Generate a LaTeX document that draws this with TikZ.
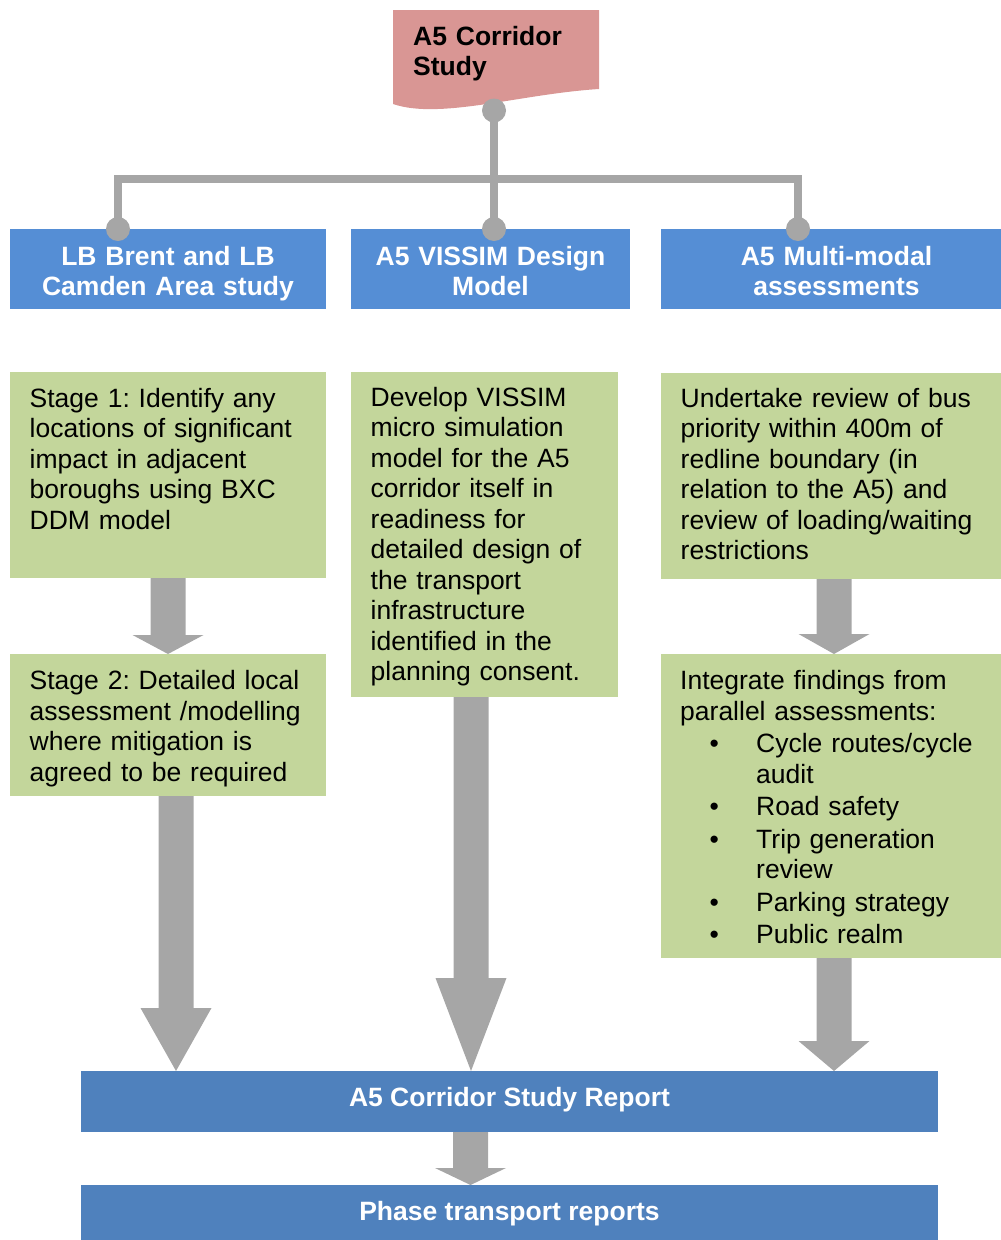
\documentclass[tikz,border=0pt]{standalone}
\usepackage{fontspec}
\setmainfont{Liberation Sans}
\usetikzlibrary{calc}
\frenchspacing
\definecolor{pinkbox}{HTML}{D99694}
\definecolor{bluehead}{HTML}{558ED5}
\definecolor{bluereport}{HTML}{4F81BD}
\definecolor{greenbox}{HTML}{C3D69B}
\definecolor{arrowgray}{HTML}{A6A6A6}
% block arrow: #1 start point, #2 end point (tip), #3 head length
\newcommand{\blockarr}[3]{%
  \fill[arrowgray] let \p1=(#1), \p2=(#2) in
   (\x1-17.5pt,\y1) -- (\x1+17.5pt,\y1) -- (\x1+17.5pt,\y2+#3) -- (\x1+35.5pt,\y2+#3)
   -- (\x1,\y2) -- (\x1-35.5pt,\y2+#3) -- (\x1-17.5pt,\y2+#3) -- cycle;}
\begin{document}
\frenchspacing
\begin{tikzpicture}[x=1pt,y=-1pt,
  basefont/.style={font=\fontsize{26.5}{30.5}\selectfont},
  shapebox/.style={inner sep=0pt,outer sep=0pt,anchor=north west,draw=none},
  headbox/.style={shapebox,fill=bluehead,minimum height=80pt},
  greenb/.style={shapebox,fill=greenbox},
  repbox/.style={shapebox,fill=bluereport,minimum width=857pt},
  headtext/.style={basefont,font=\fontsize{26.5}{30.5}\selectfont\bfseries,text=white,inner sep=0pt,anchor=north,align=center},
  bodytext/.style={basefont,inner sep=0pt,anchor=north west,text width=330pt,align=left,text=black},
  conn/.style={draw=arrowgray,line width=7.5pt},
  dot/.style={circle,fill=arrowgray,inner sep=0pt,minimum size=24pt}]
\useasboundingbox (0,0) rectangle (1001,1240);
\clip (0,0) rectangle (1001,1240);

% top document shape
\fill[pinkbox] (393,10) -- (599,10) -- (599,89) .. controls (520,94) and (440,120) .. (393,104) -- cycle;
\node[basefont,font=\fontsize{26.5}{30.5}\selectfont\bfseries,inner sep=0pt,anchor=north west,text width=200pt,align=left] (top) at (413,23.65) {\strut A5 Corridor\\Study};

% header boxes
\node[headbox,minimum width=316pt] (h1) at (10,229) {};
\node[headbox,minimum width=279pt] (h2) at (351,229) {};
\node[headbox,minimum width=350pt] (h3) at (661,229) {};
\node[headtext,text width=316pt] (h1t) at (168,243.65) {\strut LB Brent and LB\\Camden Area study};
\node[headtext,text width=279pt] (h2t) at (490.5,243.65) {\strut A5 VISSIM Design\\Model};
\node[headtext,text width=350pt] (h3t) at (836.5,243.65) {\strut A5 Multi-modal\\assessments};

% connectors
\coordinate (c0) at (494,110.5);
\coordinate (c1) at (118,229);
\coordinate (c2) at (494,229);
\coordinate (c3) at (798,229);
\coordinate (hb) at (494,179);
\draw[conn] (c0) -- (c2);
\draw[conn] (c1) |- (hb) -| (c3);
\node[dot] (d0) at (c0) {};
\node[dot] (d1) at (c1) {};
\node[dot] (d2) at (c2) {};
\node[dot] (d3) at (c3) {};

% green boxes
\node[greenb,minimum width=316pt,minimum height=206pt] (g1) at (10,372) {};
\node[greenb,minimum width=316pt,minimum height=142pt] (g2) at (10,654) {};
\node[greenb,minimum width=267pt,minimum height=325pt] (g3) at (351,372) {};
\node[greenb,minimum width=350pt,minimum height=206pt] (g4) at (661,373) {};
\node[greenb,minimum width=350pt,minimum height=304pt] (g5) at (661,654) {};

\node[bodytext] (g1t) at (29.5,385.65) {\strut Stage 1: Identify any\\locations of significant\\impact in adjacent\\boroughs using BXC\\DDM model};
\node[bodytext] (g2t) at (29.5,668.15) {\strut Stage 2: Detailed local\\assessment /modelling\\where mitigation is\\agreed to be required};
\node[bodytext] (g3t) at (370.5,384.65) {\strut Develop VISSIM\\micro simulation\\model for the A5\\corridor itself in\\readiness for\\detailed design of\\the transport\\infrastructure\\identified in the\\planning consent.};
\node[bodytext] (g4t) at (680.5,385.65) {\strut Undertake review of bus\\priority within 400m of\\redline boundary (in\\relation to the A5) and\\review of loading/waiting\\restrictions};
\node[bodytext] (g5t) at (680,668.15) {\strut Integrate findings from\\parallel assessments:\\[2pt]
\makebox[76pt][l]{\hspace*{29.5pt}•}Cycle routes/cycle\\
\hspace*{76pt}audit\\[2pt]
\makebox[76pt][l]{\hspace*{29.5pt}•}Road safety\\[2pt]
\makebox[76pt][l]{\hspace*{29.5pt}•}Trip generation\\
\hspace*{76pt}review\\[2pt]
\makebox[76pt][l]{\hspace*{29.5pt}•}Parking strategy\\[2pt]
\makebox[76pt][l]{\hspace*{29.5pt}•}Public realm};

% report boxes
\node[repbox,minimum height=61pt] (rep) at (81,1071) {};
\node[repbox,minimum height=60pt] (ph) at (81,1185) {};
\node[basefont,font=\fontsize{26.5}{30.5}\selectfont\bfseries,text=white,inner sep=0pt,anchor=base] (rept) at (509.5,1106.5) {A5 Corridor Study Report};
\node[basefont,font=\fontsize{26.5}{30.5}\selectfont\bfseries,text=white,inner sep=0pt,anchor=base] (pht) at (509.5,1220.5) {Phase transport reports};

% block arrows
\coordinate (a2s) at ([xshift=8pt]g2.south);
\coordinate (a3s) at ([xshift=-13.5pt]g3.south);
\coordinate (a4s) at ([xshift=-2pt]g4.south);
\coordinate (a5s) at ([xshift=-2pt]g5.south);
\coordinate (a6s) at ([xshift=-39pt]rep.south);
\blockarr{g1.south}{g2.north}{19pt}
\blockarr{a2s}{rep.north}{63pt}
\blockarr{a3s}{rep.north}{93pt}
\blockarr{a4s}{g5.north}{20pt}
\blockarr{a5s}{rep.north}{30pt}
\blockarr{a6s}{ph.north}{17pt}
\end{tikzpicture}
\end{document}
